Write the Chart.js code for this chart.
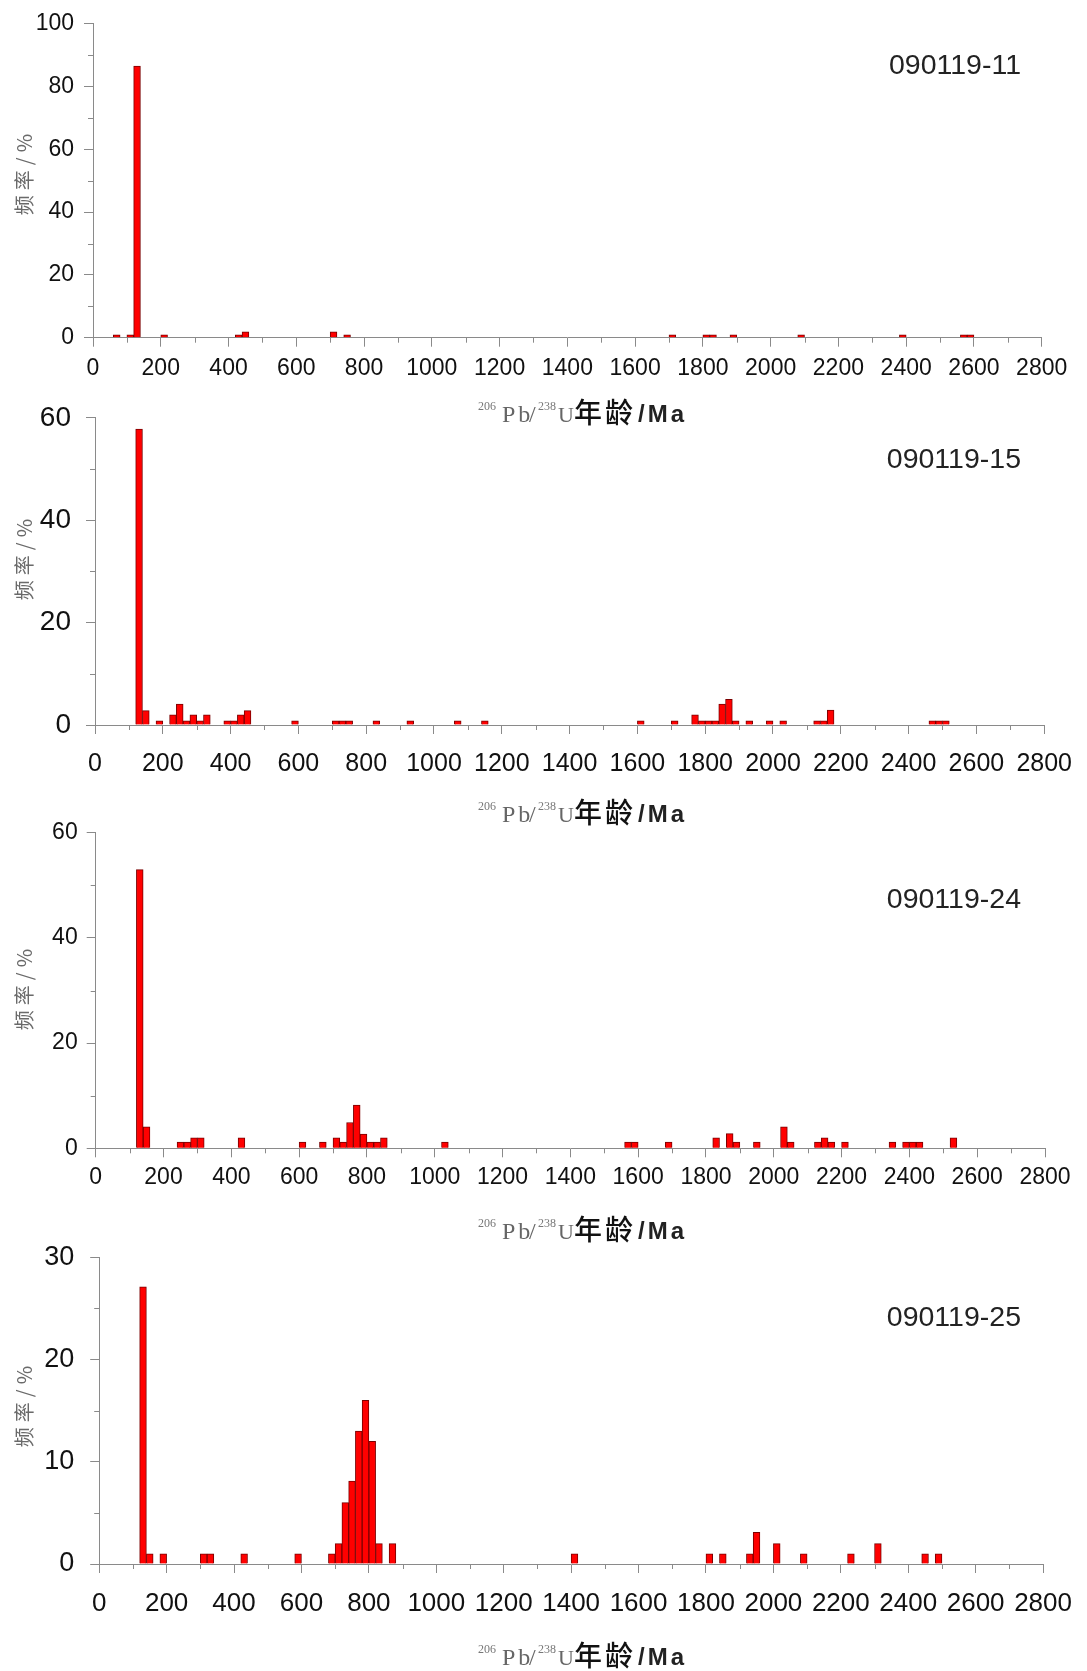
<!DOCTYPE html>
<html>
<head>
<meta charset="utf-8">
<title>206Pb/238U age histograms</title>
<script src="https://cdn.jsdelivr.net/npm/chart.js"></script>
<style>
    body { margin: 0; background: #fff; }
    #wrap { position: relative; width: 1087px; height: 1671px; }
    canvas { position: absolute; left: 0; }
</style>
</head>
<body>
<div id="wrap">
    <canvas id="c11" width="1087" height="430"></canvas>
    <canvas id="c15" width="1087" height="450"></canvas>
    <canvas id="c24" width="1087" height="440"></canvas>
    <canvas id="c25" width="1087" height="446"></canvas>
</div>

<script>
// histogram bin width, Ma
var binWidth = 20;
var ageMax = 2800;

// lower edge of each non-empty bin (Ma) and its frequency (%)
var ages11 = [60, 100, 120, 200, 420, 440, 700, 740, 1700, 1800, 1820, 1880, 2080, 2380, 2560, 2580];
var freq11 = [0.9, 0.9, 86.5, 0.9, 0.9, 1.9, 1.9, 0.9, 0.9, 0.9, 0.9, 0.9, 0.9, 0.9, 0.9, 0.9];

var ages15 = [120, 140, 180, 220, 240, 260, 280, 300, 320, 380, 400, 420, 440, 580, 700, 720, 740, 820, 920,
              1060, 1140, 1600, 1700, 1760, 1780, 1800, 1820, 1840, 1860, 1880, 1920, 1980, 2020, 2120, 2140,
              2160, 2460, 2480, 2500];
var freq15 = [57.8, 2.8, 0.8, 2, 4.1, 0.8, 2, 0.8, 2, 0.8, 0.8, 2, 2.8, 0.8, 0.8, 0.8, 0.8, 0.8, 0.8,
              0.8, 0.8, 0.8, 0.8, 2, 0.8, 0.8, 0.8, 4.1, 5, 0.8, 0.8, 0.8, 0.8, 0.8, 0.8,
              2.9, 0.8, 0.8, 0.8];

var ages24 = [120, 140, 240, 260, 280, 300, 420, 600, 660, 700, 720, 740, 760, 780, 800, 820, 840, 1020,
              1560, 1580, 1680, 1820, 1860, 1880, 1940, 2020, 2040, 2120, 2140, 2160, 2200, 2340, 2380,
              2400, 2420, 2520];
var freq24 = [53, 4.1, 1.2, 1.2, 2, 2, 2, 1.2, 1.2, 2, 1.2, 4.9, 8.2, 2.7, 1.2, 1.2, 2, 1.2,
              1.2, 1.2, 1.2, 2, 2.8, 1.2, 1.2, 4.1, 1.2, 1.2, 2, 1.2, 1.2, 1.2, 1.2,
              1.2, 1.2, 2];

var ages25 = [120, 140, 180, 300, 320, 420, 580, 680, 700, 720, 740, 760, 780, 800, 820, 860,
              1400, 1800, 1840, 1920, 1940, 2000, 2080, 2220, 2300, 2440, 2480];
var freq25 = [27.1, 1, 1, 1, 1, 1, 1, 1, 2, 6, 8.1, 13, 16, 12, 2, 2,
              1, 1, 1, 1, 3.1, 2, 1, 1, 2, 1, 1];

var axisColor = '#8a8a8a';
var sansFont = '"Liberation Sans", Arial, sans-serif';

// one entry per panel; all coordinates are page pixels
var panels = [
    { id: 'c11', name: '090119-11', ages: ages11, freq: freq11, yMax: 100, yStep: 20,
      top: 0, height: 430, left: 93, right: 1041.7, areaTop: 20, areaBottom: 337.7,
      xFont: 23, yFont: 23, xPad: 8, yPad: 10, nameY: 66, xTitleY: 413, yTitleY: 172 },
    { id: 'c15', name: '090119-15', ages: ages15, freq: freq15, yMax: 60, yStep: 20,
      top: 386, height: 450, left: 95, right: 1046.5, areaTop: 406.7, areaBottom: 725,
      xFont: 25, yFont: 28, xPad: 15, yPad: 15, nameY: 460, xTitleY: 813, yTitleY: 557 },
    { id: 'c24', name: '090119-24', ages: ages24, freq: freq24, yMax: 60, yStep: 20,
      top: 810, height: 440, left: 95.7, right: 1045, areaTop: 830.7, areaBottom: 1148.3,
      xFont: 23, yFont: 23, xPad: 7, yPad: 9, nameY: 900, xTitleY: 1230, yTitleY: 987 },
    { id: 'c25', name: '090119-25', ages: ages25, freq: freq25, yMax: 30, yStep: 10,
      top: 1225, height: 446, left: 99.2, right: 1050.4, areaTop: 1245.7, areaBottom: 1564,
      xFont: 26, yFont: 27, xPad: 15, yPad: 16, nameY: 1318, xTitleY: 1656, yTitleY: 1404 }
];

// pieces of the x axis title: 206Pb/238U年龄/Ma
var xTitleParts = [
    { t: '206', dx: 0, dy: -12, font: '12px "Liberation Serif", serif', color: '#777' },
    { t: 'Pb', dx: 24, dy: 0, font: '24px "Liberation Serif", serif', color: '#666', ls: '3px' },
    { t: '/', dx: 51, dy: 0, font: '24px "Liberation Serif", serif', color: '#666' },
    { t: '238', dx: 60, dy: -12, font: '12px "Liberation Serif", serif', color: '#777' },
    { t: 'U', dx: 80, dy: 0, font: '22px "Liberation Serif", serif', color: '#666' },
    { t: '年龄', dx: 96, dy: 1, font: '500 28px "Noto Sans CJK SC", sans-serif', color: '#111', ls: '3px' },
    { t: '/Ma', dx: 160, dy: 0, font: 'bold 24px ' + sansFont, color: '#222', ls: '3px' }
];
var xTitleLeft = 478;

// minor ticks, axis titles and the sample name
function decorationsFor(p) {
    return {
        id: 'decorations',
        afterDraw: function (chart) {
            var ctx = chart.ctx;
            var xs = chart.scales.x, ys = chart.scales.y;
            var area = chart.chartArea;
            ctx.save();

            ctx.strokeStyle = axisColor;
            ctx.lineWidth = 1;
            ctx.beginPath();
            for (var v = 100; v < ageMax; v += 200) {
                var px = Math.round(xs.getPixelForValue(v)) + 0.5;
                ctx.moveTo(px, area.bottom);
                ctx.lineTo(px, area.bottom + 5);
            }
            for (var w = p.yStep / 2; w < p.yMax; w += p.yStep) {
                var py = Math.round(ys.getPixelForValue(w)) + 0.5;
                ctx.moveTo(area.left, py);
                ctx.lineTo(area.left - 5, py);
            }
            ctx.stroke();

            // sample name
            ctx.fillStyle = '#222';
            ctx.font = '28.5px ' + sansFont;
            ctx.textAlign = 'right';
            ctx.textBaseline = 'middle';
            ctx.fillText(p.name, 1021, p.nameY - p.top);

            // y axis title
            ctx.save();
            ctx.translate(24, p.yTitleY - p.top);
            ctx.rotate(-Math.PI / 2);
            ctx.fillStyle = '#6a6a6a';
            ctx.font = '20px "Noto Sans CJK SC", sans-serif';
            ctx.letterSpacing = '5px';
            ctx.textAlign = 'center';
            ctx.textBaseline = 'middle';
            ctx.fillText('频率/%', 0, 0);
            ctx.restore();

            // x axis title
            ctx.textAlign = 'left';
            ctx.textBaseline = 'alphabetic';
            var base = p.xTitleY - p.top + 9;
            xTitleParts.forEach(function (s) {
                ctx.font = s.font;
                ctx.fillStyle = s.color;
                ctx.letterSpacing = s.ls || '0px';
                ctx.fillText(s.t, xTitleLeft + s.dx, base + s.dy);
            });

            ctx.restore();
        }
    };
}

function createChart(p) {
    var canvas = document.getElementById(p.id);
    canvas.style.top = p.top + 'px';

    var points = p.ages.map(function (a, i) {
        return { x: a + binWidth / 2, y: p.freq[i] };
    });

    return new Chart(canvas.getContext('2d'), {
        type: 'bar',
        data: {
            datasets: [{
                data: points,
                backgroundColor: '#ff0000',
                borderColor: '#7a0000',
                borderWidth: 1,
                barPercentage: 1,
                categoryPercentage: 1
            }]
        },
        options: {
            responsive: false,
            animation: false,
            devicePixelRatio: 1,
            layout: {
                padding: { left: 0, right: 1087 - p.right, top: p.areaTop - p.top, bottom: 0 }
            },
            plugins: {
                legend: { display: false },
                tooltip: { enabled: false }
            },
            scales: {
                x: {
                    type: 'linear',
                    min: 0,
                    max: ageMax,
                    offset: false,
                    grid: { offset: false, drawOnChartArea: false, drawTicks: true, tickLength: 9, tickColor: axisColor },
                    border: { color: axisColor, width: 1 },
                    ticks: {
                        stepSize: 200,
                        autoSkip: false,
                        maxRotation: 0,
                        minRotation: 0,
                        padding: p.xPad,
                        color: '#111',
                        font: { family: sansFont, size: p.xFont },
                        callback: function (v) { return String(v); }
                    },
                    afterFit: function (s) { s.height = p.height - (p.areaBottom - p.top); }
                },
                y: {
                    min: 0,
                    max: p.yMax,
                    grid: { drawOnChartArea: false, drawTicks: true, tickLength: 9, tickColor: axisColor },
                    border: { color: axisColor, width: 1 },
                    ticks: {
                        stepSize: p.yStep,
                        autoSkip: false,
                        padding: p.yPad,
                        color: '#111',
                        font: { family: sansFont, size: p.yFont },
                        callback: function (v) { return String(v); }
                    },
                    afterFit: function (s) { s.width = p.left; }
                }
            }
        },
        plugins: [decorationsFor(p)]
    });
}

panels.forEach(createChart);
</script>
</body>
</html>
